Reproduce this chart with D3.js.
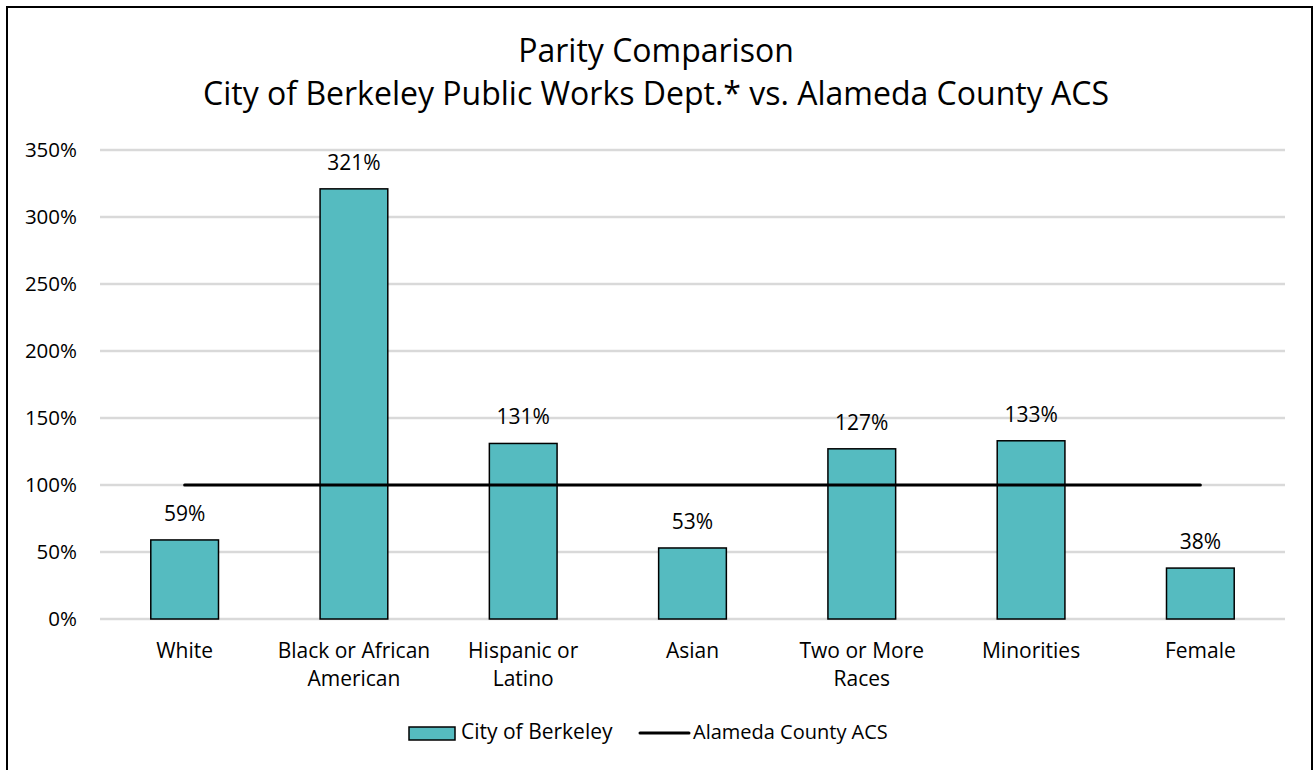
<!DOCTYPE html>
<html><head><meta charset="utf-8">
<script src="https://cdn.jsdelivr.net/npm/d3@7"></script>
<style>
body{margin:0;background:#fff;}
text{font-family:"Open Sans",sans-serif;fill:#000;}
</style></head>
<body><svg id="c" width="1314" height="770"></svg>
<script>
const categories = [["White"],["Black or African","American"],["Hispanic or","Latino"],["Asian"],["Two or More","Races"],["Minorities"],["Female"]];
const cityValues = [59,321,131,53,127,133,38];
const countyValues = [100,100,100,100,100,100,100];
const yTicks = [0,50,100,150,200,250,300,350];
const titleLines = ["Parity Comparison","City of Berkeley Public Works Dept.* vs. Alameda County ACS"];
const seriesNames = ["City of Berkeley","Alameda County ACS"];

const svg = d3.select("#c");
svg.append("rect").attr("x",7).attr("y",7).attr("width",1305).attr("height",780)
  .attr("fill","#fff").attr("stroke","#000").attr("stroke-width",2);

const x = d3.scaleBand().domain(d3.range(categories.length)).range([100,1285]).paddingInner(0.6).paddingOuter(0.3);
const y = d3.scaleLinear().domain([0,350]).range([619,150]);

// title
svg.append("g").selectAll("text").data(titleLines).join("text")
  .attr("x",656).attr("y",(d,i)=>62+i*42.5).attr("text-anchor","middle")
  .style("font-size","32px").text(d=>d);

// grid
svg.append("g").selectAll("line").data(yTicks).join("line")
  .attr("x1",100).attr("x2",1285).attr("y1",d=>y(d)).attr("y2",d=>y(d))
  .attr("stroke","#d9d9d9").attr("stroke-width",2.5);

// y axis labels
const yAxis = d3.axisLeft(y).tickValues(yTicks).tickFormat(d=>d+"%").tickSize(0).tickPadding(0);
const ya = svg.append("g").attr("transform","translate(77,0)").call(yAxis);
ya.select(".domain").remove();
ya.selectAll("text").style("font-size","20.5px").style("font-family","'Open Sans',sans-serif").attr("fill","#000");

// bars
svg.append("g").selectAll("rect").data(cityValues).join("rect")
  .attr("x",(d,i)=>x(i)).attr("width",x.bandwidth())
  .attr("y",d=>y(d)).attr("height",d=>y(0)-y(d))
  .attr("fill","#55BBC0").attr("stroke","#000").attr("stroke-width",1.5);

// data labels
svg.append("g").selectAll("text").data(cityValues).join("text")
  .attr("x",(d,i)=>x(i)+x.bandwidth()/2).attr("y",d=>y(d)-19)
  .attr("text-anchor","middle").style("font-size","21px").text(d=>d+"%");

// county line
const line = d3.line().x((d,i)=>x(i)+x.bandwidth()/2).y(d=>y(d));
svg.append("path").datum(countyValues).attr("d",line).attr("fill","none")
  .attr("stroke","#000").attr("stroke-width",3).attr("stroke-linecap","round");

// x labels
const xl = svg.append("g").selectAll("text").data(categories).join("text")
  .attr("x",(d,i)=>x(i)+x.bandwidth()/2).attr("y",658).attr("text-anchor","middle").style("font-size","21px");
xl.selectAll("tspan").data(d=>d).join("tspan")
  .attr("x",function(){return this.parentNode.getAttribute("x");})
  .attr("dy",(d,i)=>i===0?0:27.5).text(d=>d);

// legend
const lg = svg.append("g");
lg.append("rect").attr("x",409).attr("y",727).attr("width",46).attr("height",13)
  .attr("fill","#55BBC0").attr("stroke","#000").attr("stroke-width",1.5);
lg.append("text").attr("x",461).attr("y",739).style("font-size","21px").text(seriesNames[0]);
lg.append("line").attr("x1",640).attr("x2",689).attr("y1",733).attr("y2",733)
  .attr("stroke","#000").attr("stroke-width",3).attr("stroke-linecap","round");
lg.append("text").attr("x",693).attr("y",739).style("font-size","20px").text(seriesNames[1]);
</script></body></html>
